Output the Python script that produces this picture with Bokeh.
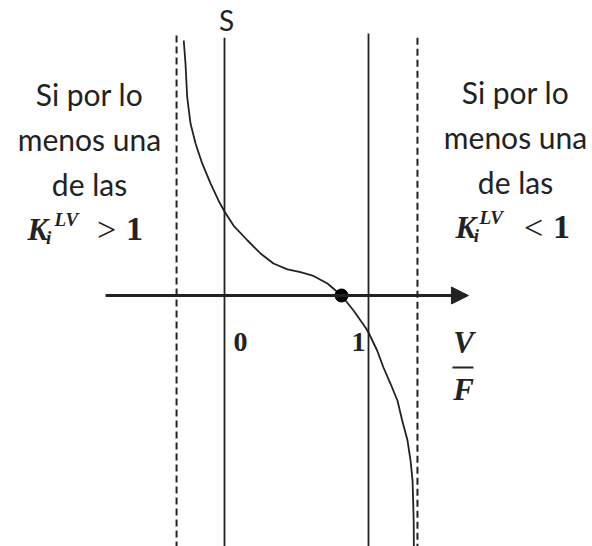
from bokeh.plotting import figure
from bokeh.models import Label, Arrow, NormalHead
from bokeh.embed import file_html
from bokeh.resources import INLINE

# Rachford-Rice function S(V/F), sketched values
vf = [-0.283, -0.271, -0.259, -0.236, -0.201, -0.155, -0.097, -0.042, 0.0,
      0.0625, 0.160, 0.25, 0.340, 0.4375, 0.528, 0.618, 0.715, 0.8125,
      0.896, 0.979, 1.0, 1.060, 1.104, 1.153, 1.201, 1.234, 1.271, 1.292,
      1.306, 1.310, 1.314, 1.315]
s_val = [1.771, 1.611, 1.377, 1.194, 1.056, 0.917, 0.778, 0.660, 0.583,
         0.486, 0.382, 0.292, 0.222, 0.181, 0.162, 0.136, 0.083, 0.0,
         -0.104, -0.222, -0.257, -0.382, -0.5, -0.613, -0.729, -0.868, -1.007, -1.146,
         -1.285, -1.424, -1.58, -1.76]

root_vf = [0.8125]
root_s = [0.0]

bounds_vf = [0.0, 1.0]          # V/F = 0 and V/F = 1
asymptotes_vf = [-0.333, 1.34]  # poles of S

ink = "#222222"
txt = "#222222"

p = figure(width=592, height=546, x_range=(-1.5556, 2.5556), y_range=(-1.743, 2.0486),
           output_backend="svg", toolbar_location=None, min_border=0)
p.axis.visible = False
p.grid.visible = False
p.outline_line_color = None
p.background_fill_color = "white"
p.border_fill_color = "white"

# vertical guides
p.segment(x0=bounds_vf, y0=[1.79, 1.82], x1=bounds_vf, y1=[-1.8, -1.8],
          line_color=ink, line_width=1.8)
p.segment(x0=asymptotes_vf, y0=[1.806, 1.79], x1=asymptotes_vf, y1=[-1.8, -1.8],
          line_color=ink, line_width=2, line_dash="7 4")

# horizontal axis with arrow
p.add_layout(Arrow(x_start=-0.826, y_start=0, x_end=1.694, y_end=0,
                   line_color=ink, line_width=3,
                   end=NormalHead(size=17, fill_color=ink, line_color=ink)))

# curve and root
p.line(vf, s_val, line_color=ink, line_width=1.8)
p.scatter(root_vf, root_s, size=13, fill_color="black", line_color="black")

sans = "Lato"
serif = "Liberation Serif"
dy = 0.056  # lift text so its baseline sits on the given height

def lab(x, y, t, font=sans, size=30, style="normal", align="center", color=txt):
    p.add_layout(Label(x=x, y=y + dy, text=t, text_font=font, text_font_size=f"{size}px",
                       text_font_style=style, text_align=align,
                       text_baseline="alphabetic", text_color=color))

lab(0.014, 1.86, "S", size=28)
lab(0.111, -0.382, "0", font=serif, size=28, style="bold")
lab(0.931, -0.382, "1", font=serif, size=28, style="bold")
lab(1.660, -0.382, "V", font=serif, size=31, style="bold italic")
p.segment(x0=[1.583], y0=[-0.50], x1=[1.729], y1=[-0.50], line_color=txt, line_width=2)
lab(1.660, -0.708, "F", font=serif, size=31, style="bold italic")

# side notes
for cx, ys in ((-0.9375, (1.340, 1.028, 0.715)), (2.021, (1.354, 1.042, 0.729))):
    lab(cx, ys[0], "Si por lo")
    lab(cx, ys[1], "menos una")
    lab(cx, ys[2], "de las")

# K_i^LV > 1
lab(-1.368, 0.403, "K", font=serif, size=31, style="bold italic", align="left")
lab(-1.222, 0.35, "i", font=serif, size=19, style="bold italic")
lab(-1.180, 0.475, "LV", font=serif, size=19, style="bold italic", align="left")
lab(-0.819, 0.403, ">", font=serif, size=34)
lab(-0.625, 0.403, "1", font=serif, size=34, style="bold")

# K_i^LV < 1
lab(1.604, 0.417, "K", font=serif, size=31, style="bold italic", align="left")
lab(1.750, 0.364, "i", font=serif, size=19, style="bold italic")
lab(1.770, 0.489, "LV", font=serif, size=19, style="bold italic", align="left")
lab(2.146, 0.417, "<", font=serif, size=34)
lab(2.340, 0.417, "1", font=serif, size=34, style="bold")

open("out.html", "w").write(file_html(p, INLINE))
